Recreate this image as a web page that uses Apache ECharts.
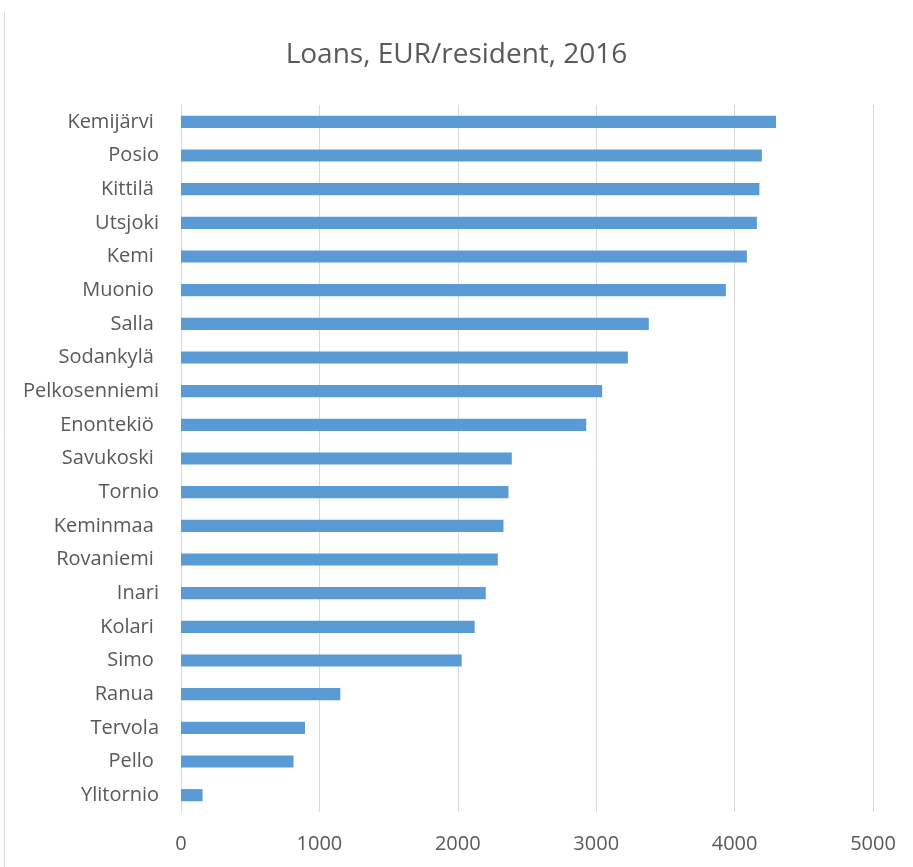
<!DOCTYPE html>
<html>
<head>
<meta charset="utf-8">
<script src="https://cdn.jsdelivr.net/npm/echarts@6/dist/echarts.min.js"></script>
<style>
  html, body { margin: 0; padding: 0; background: #fff; }
  #chart { width: 913px; height: 867px; }
</style>
</head>
<body>
<div id="chart"></div>
<script>
// Municipalities, top to bottom
const municipalities = [
  'Kemijärvi ', 'Posio', 'Kittilä ', 'Utsjoki', 'Kemi ', 'Muonio ', 'Salla ',
  'Sodankylä ', 'Pelkosenniemi', 'Enontekiö ', 'Savukoski ', 'Tornio', 'Keminmaa ',
  'Rovaniemi ', 'Inari', 'Kolari ', 'Simo ', 'Ranua ', 'Tervola', 'Pello ', 'Ylitornio'
];
// Loans per resident, EUR
const loansPerResident = [
  4299, 4197, 4179, 4161, 4089, 3937, 3380,
  3229, 3043, 2928, 2390, 2366, 2330,
  2289, 2202, 2122, 2028, 1151, 896, 813, 156
];
const valueTicks = [0, 1000, 2000, 3000, 4000, 5000];

const FONT = 'Open Sans';
const TEXT = '#595959';
const GRID = '#d9d9d9';

const chart = echarts.init(document.getElementById('chart'), null, { renderer: 'canvas' });
chart.setOption({
  animation: false,
  backgroundColor: '#ffffff',
  title: {
    text: 'Loans, EUR/resident, 2016',
    left: 'center',
    top: 36,
    textStyle: { fontFamily: FONT, fontSize: 28, fontWeight: 'normal', color: TEXT }
  },
  grid: { left: 181, right: 40, top: 105, bottom: 55, containLabel: false },
  xAxis: {
    type: 'value',
    min: valueTicks[0],
    max: valueTicks[valueTicks.length - 1],
    interval: valueTicks[1] - valueTicks[0],
    axisLine: { show: false },
    axisTick: { show: false },
    splitLine: { show: true, lineStyle: { color: GRID, width: 1 } },
    axisLabel: {
      fontFamily: FONT, fontSize: 20, color: TEXT, margin: 22,
      formatter: v => String(v)
    }
  },
  yAxis: {
    type: 'category',
    data: municipalities,
    inverse: true,
    axisLine: { show: true, lineStyle: { color: GRID, width: 1 } },
    axisTick: { show: false },
    axisLabel: { fontFamily: FONT, fontSize: 20, color: TEXT, margin: 22 }
  },
  series: [{
    type: 'bar',
    data: loansPerResident,
    barCategoryGap: '64%',
    itemStyle: { color: '#5b9bd5' }
  }],
  graphic: [{
    type: 'line',
    shape: { x1: 4.5, y1: 12, x2: 4.5, y2: 867 },
    style: { stroke: GRID, lineWidth: 1 },
    silent: true
  }]
});
</script>
</body>
</html>
